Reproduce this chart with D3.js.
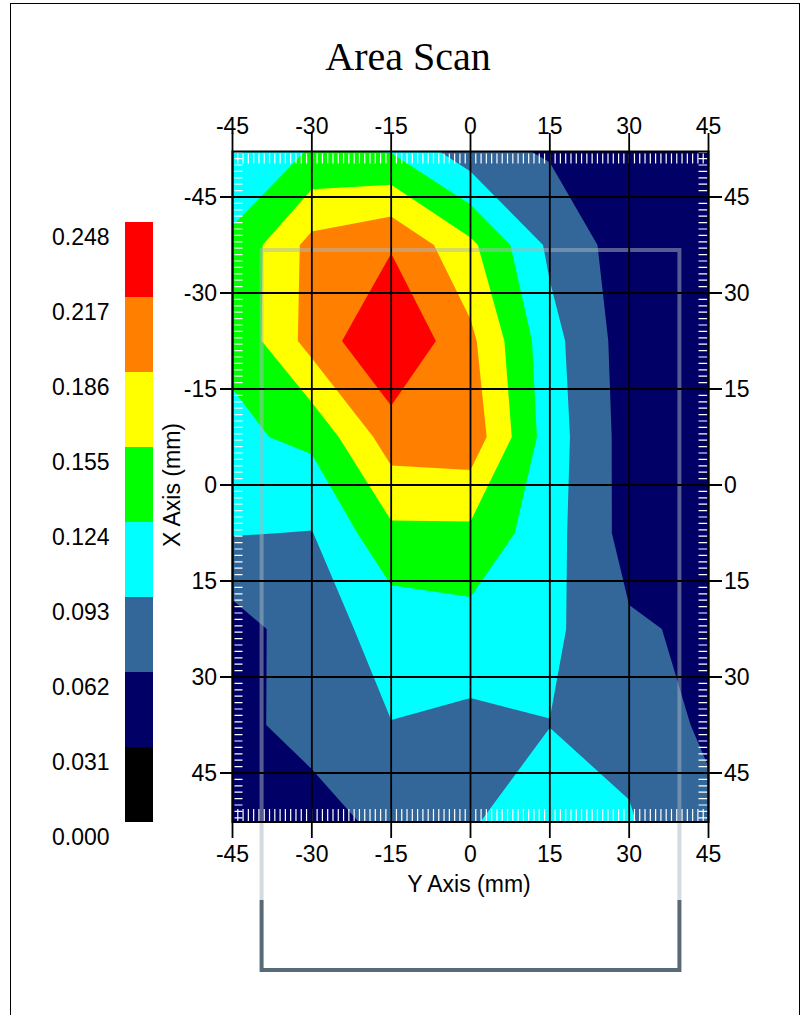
<!DOCTYPE html>
<html>
<head>
<meta charset="utf-8">
<script src="https://cdn.jsdelivr.net/npm/d3@7"></script>
<style>
body { margin: 0; background: #fff; }
svg { display: block; }
text { font-family: "Liberation Sans", Arial, sans-serif; fill: #000; }
</style>
</head>
<body>
<div id="chart"></div>
<script>
// scan positions (mm): columns along "Y Axis", rows along "X Axis"
var colsY = [-45, -30, -15, 0, 15, 30, 45];
var rowsX = [-52.5, -37.5, -22.5, -7.5, 7.5, 22.5, 37.5, 52.5];

// amplitude read at each scan point, one array per row
var row0 = [0.100, 0.1255, 0.120, 0.072, 0.058, 0.045, 0.040];
var row1 = [0.130, 0.196, 0.214, 0.162, 0.0865, 0.0457, 0.040];
var row2 = [0.130, 0.198, 0.248, 0.193, 0.104, 0.047, 0.040];
var row3 = [0.118, 0.131, 0.202, 0.206, 0.108, 0.049, 0.040];
var row4 = [0.0945, 0.092, 0.148, 0.148, 0.105, 0.050, 0.040];
var row5 = [0.048, 0.0805, 0.104, 0.112, 0.100, 0.066, 0.0563];
var row6 = [0.045, 0.085, 0.0924, 0.0856, 0.0925, 0.086, 0.055];
var row7 = [0.040, 0.035, 0.0816, 0.0904, 0.110, 0.095, 0.071];
var amp = [row0, row1, row2, row3, row4, row5, row6, row7];

// colour levels
var levels = [0.000, 0.031, 0.062, 0.093, 0.124, 0.155, 0.186, 0.217, 0.248];
var levelColors = ["#000000", "#000066", "#336699", "#00ffff", "#00ff00", "#ffff00", "#ff8000", "#ff0000"];

var axisTicks = [-45, -30, -15, 0, 15, 30, 45];

var W = 809, H = 1015;
var svg = d3.select("#chart").append("svg")
    .attr("width", W)
    .attr("height", H);

// outer frame
svg.append("rect")
    .attr("x", 10.5).attr("y", 3.5)
    .attr("width", 789).attr("height", 1100)
    .attr("fill", "none").attr("stroke", "#000").attr("stroke-width", 1);

svg.append("text")
    .attr("x", 408).attr("y", 70)
    .attr("text-anchor", "middle")
    .style("font-family", "'Liberation Serif', 'Times New Roman', serif")
    .style("font-size", "40px")
    .text("Area Scan");

var x = d3.scaleLinear().domain([-45, 45]).range([232.5, 708.5]);
var y = d3.scaleLinear().domain([-45, 45]).range([197, 773]);
var plotTop = 151.5, plotBottom = 822, plotLeft = x(-45), plotRight = x(45);

svg.append("clipPath").attr("id", "plotclip")
    .append("rect")
    .attr("x", plotLeft).attr("y", plotTop)
    .attr("width", plotRight - plotLeft).attr("height", plotBottom - plotTop);

// filled contours
var nx = colsY.length, ny = rowsX.length;
var values = [];
amp.forEach(function(r) { r.forEach(function(v) { values.push(v); }); });
var stepY = colsY[1] - colsY[0], stepX = rowsX[1] - rowsX[0];
var bands = d3.contours()
    .size([nx, ny])
    .thresholds(levels.slice(0, levelColors.length))(values);
var proj = d3.geoTransform({
    point: function(gx, gy) {
        this.stream.point(x(colsY[0] + (gx - 0.5) * stepY), y(rowsX[0] + (gy - 0.5) * stepX));
    }
});
var path = d3.geoPath(proj);

var plot = svg.append("g").attr("clip-path", "url(#plotclip)");
plot.selectAll("path.band")
    .data(bands)
    .enter().append("path")
    .attr("class", "band")
    .attr("d", path)
    .attr("fill", function(d, i) { return levelColors[i]; });

// white scale marks along the inside of the frame, every mm
var g = plot.append("g").attr("stroke", "#fff").attr("stroke-width", 1.2);
d3.range(-45, 45.1, 1).forEach(function(m) {
    g.append("line").attr("x1", x(m)).attr("x2", x(m)).attr("y1", plotTop + 2).attr("y2", plotTop + 12);
    g.append("line").attr("x1", x(m)).attr("x2", x(m)).attr("y1", plotBottom - 13).attr("y2", plotBottom - 1);
});
d3.range(-52, 52.6, 1).forEach(function(m) {
    g.append("line").attr("x1", plotLeft + 2).attr("x2", plotLeft + 10).attr("y1", y(m)).attr("y2", y(m));
    g.append("line").attr("x1", plotRight - 10).attr("x2", plotRight - 1).attr("y1", y(m)).attr("y2", y(m));
});

// probe outline
svg.append("path")
    .attr("d", "M" + x(-39.5) + ",900 V" + y(-36.7) + " H" + x(39.5) + " V900")
    .attr("fill", "none")
    .attr("stroke", "#a9b8be")
    .attr("stroke-opacity", 0.5)
    .attr("stroke-width", 4);
svg.append("path")
    .attr("d", "M" + x(-39.5) + ",900 V970 H" + x(39.5) + " V900")
    .attr("fill", "none")
    .attr("stroke", "#586a75")
    .attr("stroke-width", 4);

// grid lines with ticks
var grid = svg.append("g").attr("stroke", "#000").attr("stroke-width", 1.8);
axisTicks.forEach(function(t) {
    grid.append("line").attr("x1", x(t)).attr("x2", x(t)).attr("y1", 133).attr("y2", 838);
    grid.append("line").attr("x1", 220).attr("x2", 722).attr("y1", y(t)).attr("y2", y(t));
});
svg.append("rect")
    .attr("x", plotLeft).attr("y", plotTop)
    .attr("width", plotRight - plotLeft).attr("height", plotBottom - plotTop)
    .attr("fill", "none").attr("stroke", "#000").attr("stroke-width", 2);

// tick labels
var fs = "23px";
axisTicks.forEach(function(t) {
    svg.append("text").attr("x", x(t)).attr("y", 126).attr("dy", "0.35em")
        .attr("text-anchor", "middle").style("font-size", fs).text(t);
    svg.append("text").attr("x", x(t)).attr("y", 854).attr("dy", "0.35em")
        .attr("text-anchor", "middle").style("font-size", fs).text(t);
    svg.append("text").attr("x", 217).attr("y", y(t)).attr("dy", "0.35em")
        .attr("text-anchor", "end").style("font-size", fs).text(t);
    svg.append("text").attr("x", 724).attr("y", y(t)).attr("dy", "0.35em")
        .attr("text-anchor", "start").style("font-size", fs).text(Math.abs(t));
});

svg.append("text").attr("x", 469).attr("y", 884).attr("dy", "0.35em")
    .attr("text-anchor", "middle").style("font-size", fs).text("Y Axis (mm)");
svg.append("text")
    .attr("transform", "translate(172,485) rotate(-90)")
    .attr("dy", "0.35em")
    .attr("text-anchor", "middle").style("font-size", fs).text("X Axis (mm)");

// colour bar
var cb = d3.scaleLinear().domain([levels[0], levels[levels.length - 1]]).range([822, 222]);
svg.selectAll("rect.cb")
    .data(levelColors)
    .enter().append("rect")
    .attr("class", "cb")
    .attr("x", 125).attr("width", 28)
    .attr("y", function(d, i) { return cb(levels[i + 1]); })
    .attr("height", function(d, i) { return cb(levels[i]) - cb(levels[i + 1]); })
    .attr("fill", function(d) { return d; });
svg.selectAll("text.cbl")
    .data(levels)
    .enter().append("text")
    .attr("class", "cbl")
    .attr("x", 52)
    .attr("y", function(d) { return cb(d) + 15; })
    .attr("dy", "0.35em")
    .style("font-size", fs)
    .text(function(d) { return d.toFixed(3); });
</script>
</body>
</html>
